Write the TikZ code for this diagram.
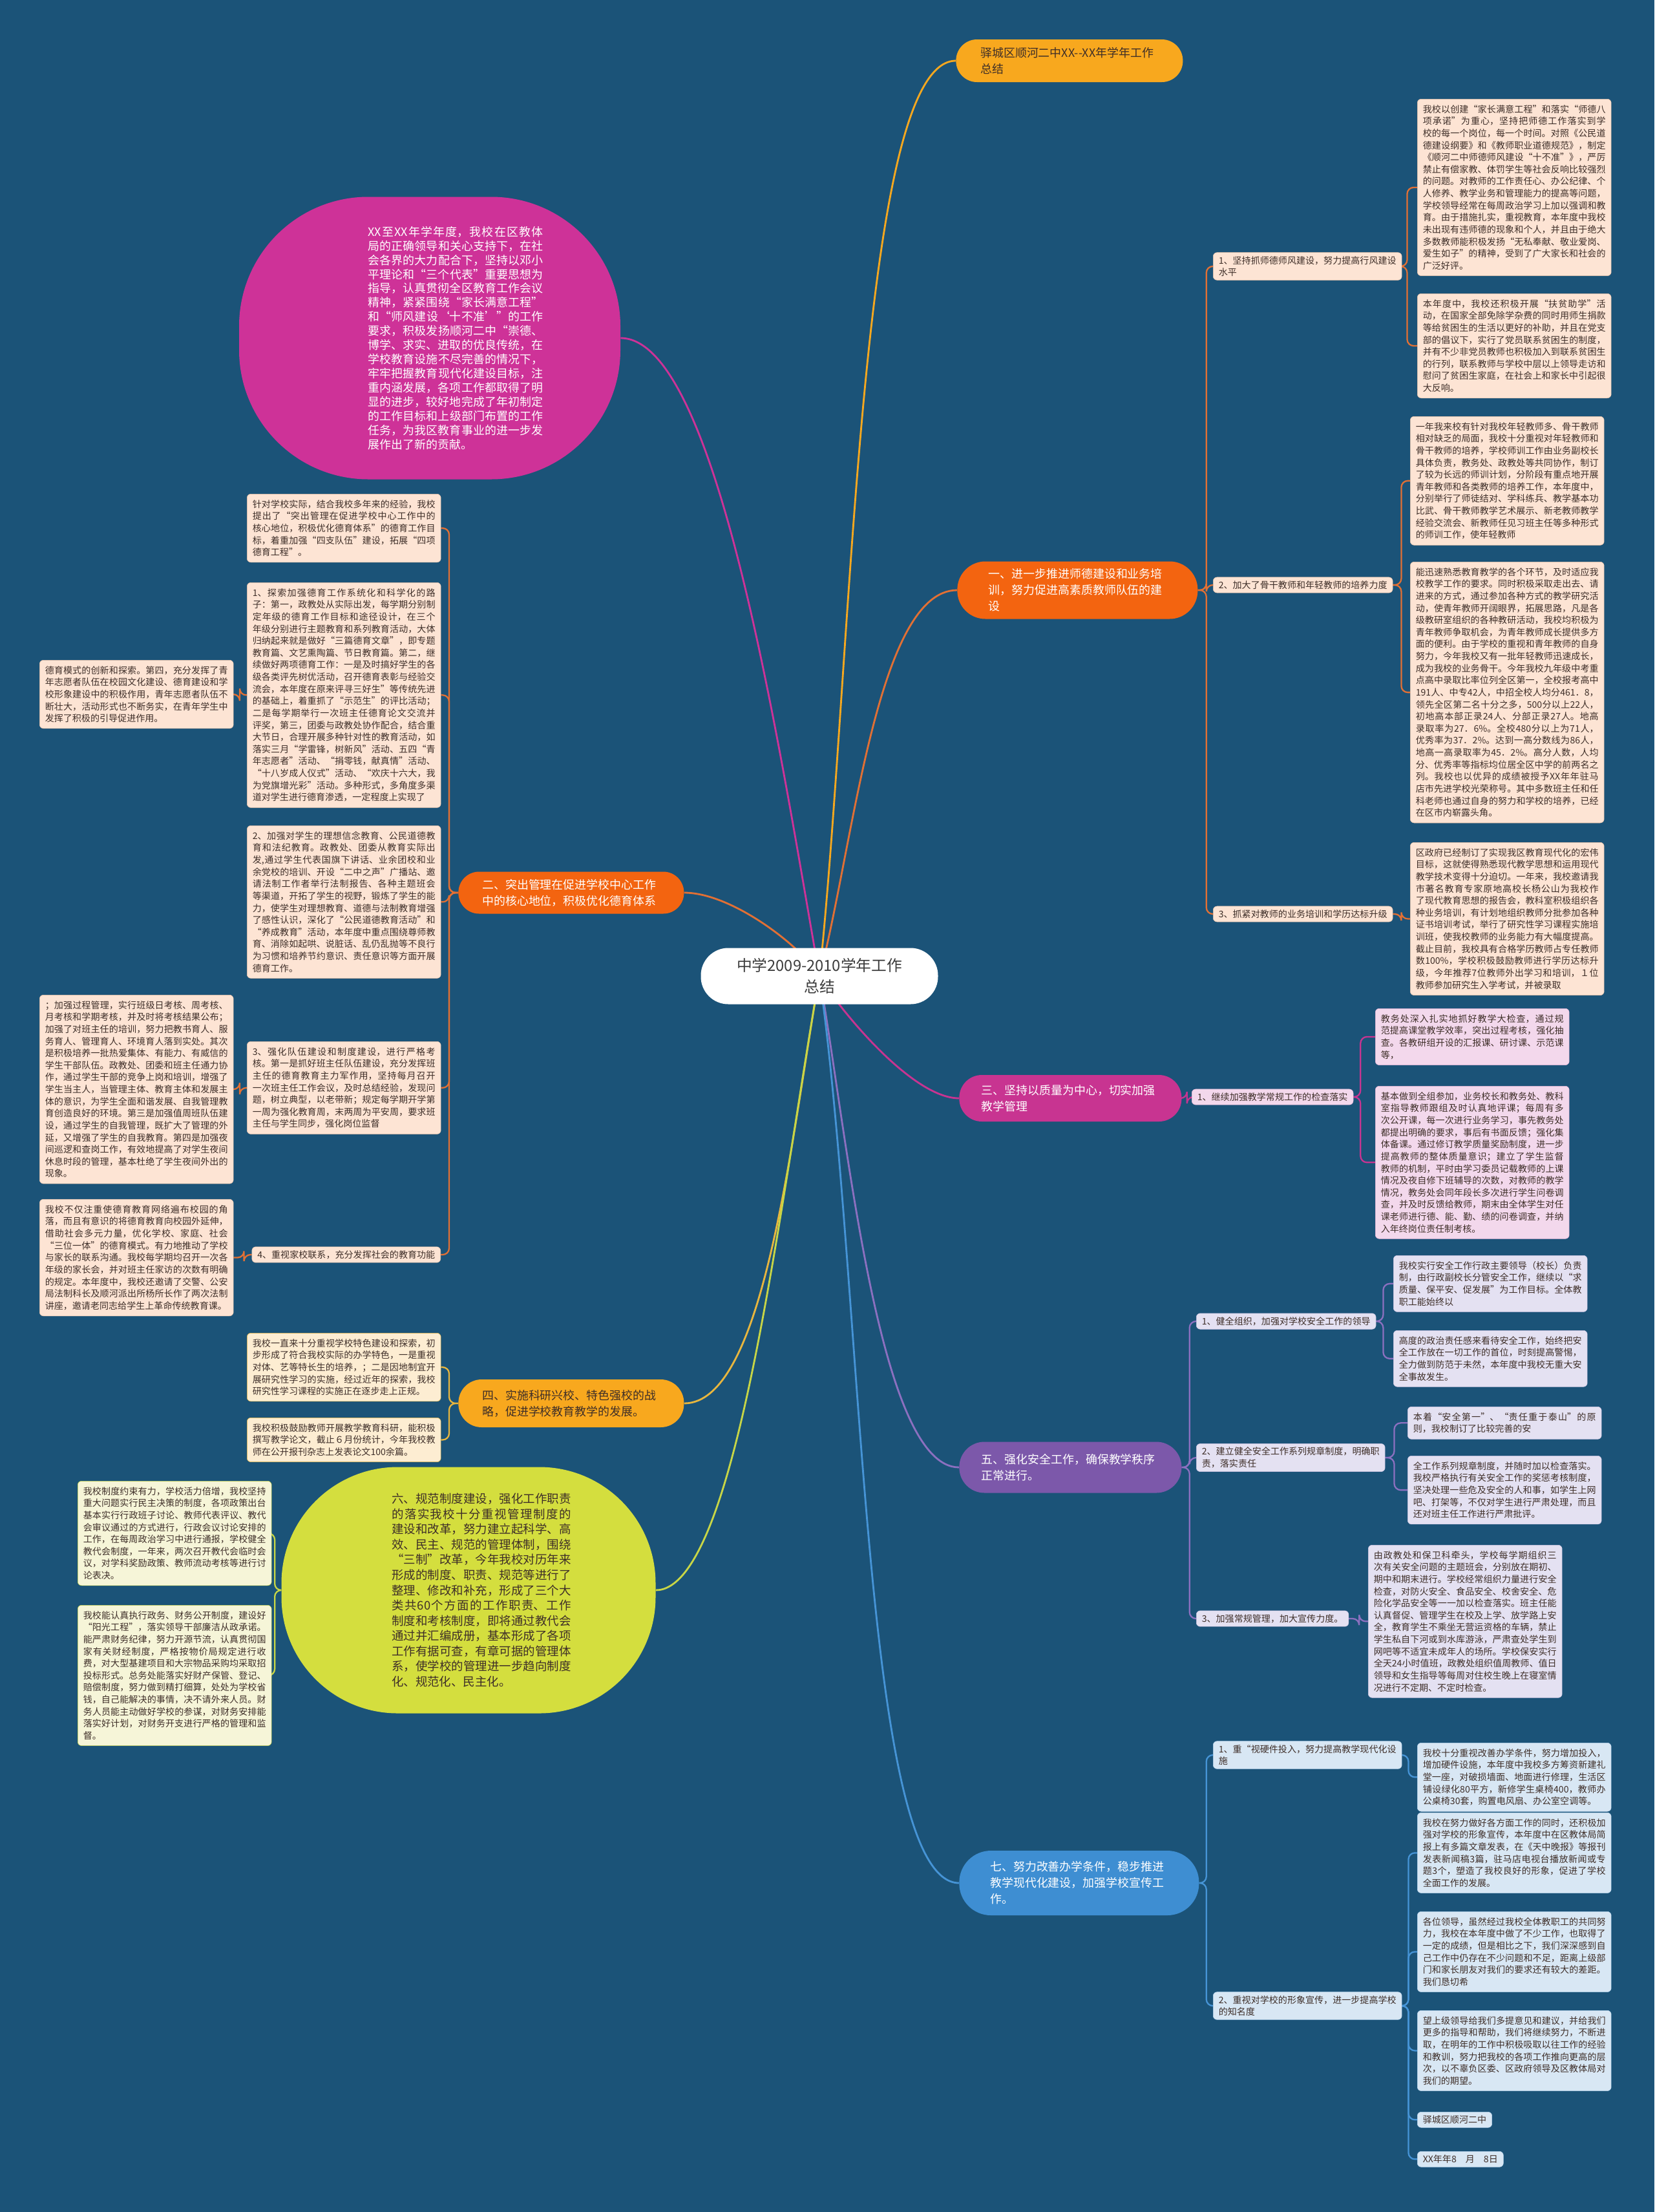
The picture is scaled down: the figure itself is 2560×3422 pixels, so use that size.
\documentclass[tikz,border=0pt]{standalone}
\usepackage{fontspec}
\setmainfont{Noto Sans CJK SC}
\XeTeXlinebreaklocale "zh"
\XeTeXlinebreakskip=0pt plus 1pt
\usetikzlibrary{backgrounds}

\definecolor{bgblue}{RGB}{27,83,120}
\definecolor{orng}{RGB}{243,100,16}
\definecolor{orline}{RGB}{226,112,52}
\definecolor{peach}{RGB}{253,228,212}
\definecolor{peachline}{RGB}{236,196,170}
\definecolor{gold}{RGB}{248,168,30}
\definecolor{goldline}{RGB}{232,182,62}
\definecolor{cream}{RGB}{253,237,210}
\definecolor{mag}{RGB}{200,52,145}
\definecolor{pinkbox}{RGB}{243,216,236}
\definecolor{purp}{RGB}{124,88,170}
\definecolor{purline}{RGB}{140,112,192}
\definecolor{lav}{RGB}{228,225,242}
\definecolor{blu}{RGB}{62,142,210}
\definecolor{bluline}{RGB}{70,148,214}
\definecolor{lblue}{RGB}{216,231,244}
\definecolor{pinkell}{RGB}{206,50,152}
\definecolor{lime}{RGB}{212,222,62}
\definecolor{limeline}{RGB}{200,214,70}
\definecolor{pale}{RGB}{246,245,216}
\definecolor{txt}{RGB}{62,46,40}
\definecolor{roottxt}{RGB}{60,60,60}

\newcommand{\boxfont}{\fontsize{8}{10.6}\selectfont}
\newcommand{\pillfont}{\fontsize{10.2}{14.2}\selectfont}

\tikzset{
  rootnode/.style={fill=white,rounded corners=8.5mm,minimum width=73.4mm,minimum height=17.4mm,align=center,font=\fontsize{13.5}{18.5}\selectfont,text=roottxt},
  pill/.style={align=left,text width=55mm,inner xsep=0pt,inner ysep=1mm,font=\pillfont,anchor=west},
  bubble/.style={inner sep=0pt},
  txtbox/.style={rounded corners=1.2mm,align=justify,text width=161pt,inner xsep=1.7mm,inner ysep=1.8mm,font=\boxfont,text=txt,anchor=north west},
  tag/.style={rounded corners=1.2mm,align=left,inner xsep=1.7mm,inner ysep=1.1mm,font=\boxfont,text=txt,anchor=west},
  oc/.style={fill=peach,draw=peachline,line width=.3pt},
  gc/.style={fill=cream,draw=goldline,line width=.3pt},
  mc/.style={fill=pinkbox,draw=pinkbox!80!mag,line width=.3pt},
  vc/.style={fill=lav,draw=lav!80!purp,line width=.3pt},
  bc/.style={fill=lblue,draw=lblue!80!blu,line width=.3pt},
  lc/.style={fill=pale,draw=limeline,line width=.3pt},
  trunk/.style={line width=1.6pt},
  twig/.style={line width=1.3pt,rounded corners=2mm}
}

\begin{document}
\begin{tikzpicture}[x=0.2mm,y=0.2mm]

  \begin{scope}[on background layer]
    \fill[bgblue] (0,0) rectangle (2560,-3422);
  \end{scope}
  \useasboundingbox (0,0) rectangle (2560,-3422);

  % --- centre ---
  \node[rootnode] (root) at (1268,-1510) {中学2009-2010学年工作\\总结};

  % --- droite : titre ---
  \node[pill,fill=gold,text=txt,minimum width=70.2mm,minimum height=13.2mm,rounded corners=6.5mm] (title) at (1479,-94) {驿城区顺河二中XX-{}-XX年学年工作\\总结};

  % --- droite : un ---
  \node[pill,fill=orng,text=white,minimum width=74.4mm,minimum height=17.8mm,rounded corners=8.7mm] (one) at (1481,-913) {一、进一步推进师德建设和业务培\\训，努力促进高素质教师队伍的建\\设};
  \node[tag,oc] (t11) at (1877,-412) {1、坚持抓师德师风建设，努力提高行风建设\\水平};
  \node[tag,oc] (t12) at (1877,-905) {2、加大了骨干教师和年轻教师的培养力度};
  \node[tag,oc] (t13) at (1877,-1414) {3、抓紧对教师的业务培训和学历达标升级};
  \node[txtbox,oc] (b11) at (2193,-153) {我校以创建“家长满意工程”和落实“师德八项承诺”为重心，坚持把师德工作落实到学校的每一个岗位，每一个时间。对照《公民道德建设纲要》和《教师职业道德规范》，制定《顺河二中师德师风建设“十不准”》，严厉禁止有偿家教、体罚学生等社会反响比较强烈的问题。对教师的工作责任心、办公纪律、个人修养、教学业务和管理能力的提高等问题，学校领导经常在每周政治学习上加以强调和教育。由于措施扎实，重视教育，本年度中我校未出现有违师德的现象和个人，并且由于绝大多数教师能积极发扬“无私奉献、敬业爱岗、爱生如子”的精神，受到了广大家长和社会的广泛好评。};
  \node[txtbox,oc] (b12) at (2193,-454) {本年度中，我校还积极开展“扶贫助学”活动，在国家全部免除学杂费的同时用师生捐款等给贫困生的生活以更好的补助，并且在党支部的倡议下，实行了党员联系贫困生的制度，并有不少非党员教师也积极加入到联系贫困生的行列，联系教师与学校中层以上领导走访和慰问了贫困生家庭，在社会上和家长中引起很大反响。};
  \node[txtbox,oc] (b13) at (2182,-644) {一年我来校有针对我校年轻教师多、骨干教师相对缺乏的局面，我校十分重视对年轻教师和骨干教师的培养，学校师训工作由业务副校长具体负责，教务处、政教处等共同协作，制订了较为长远的师训计划，分阶段有重点地开展青年教师和各类教师的培养工作，本年度中，分别举行了师徒结对、学科练兵、教学基本功比武、骨干教师教学艺术展示、新老教师教学经验交流会、新教师任见习班主任等多种形式的师训工作，使年轻教师};
  \node[txtbox,oc] (b14) at (2182,-869) {能迅速熟悉教育教学的各个环节，及时适应我校教学工作的要求。同时积极采取走出去、请进来的方式，通过参加各种方式的教学研究活动，使青年教师开阔眼界，拓展思路，凡是各级教研室组织的各种教研活动，我校均积极为青年教师争取机会，为青年教师成长提供多方面的便利。由于学校的重视和青年教师的自身努力，今年我校又有一批年轻教师迅速成长，成为我校的业务骨干。今年我校九年级中考重点高中录取比率位列全区第一，全校报考高中191人、中专42人，中招全校人均分461．8，领先全区第二名十分之多，500分以上22人，初地高本部正录24人、分部正录27人。地高录取率为27．6\%。全校480分以上为71人，优秀率为37．2\%。达到一高分数线为86人，地高一高录取率为45．2\%。高分人数，人均分、优秀率等指标均位居全区中学的前两名之列。我校也以优异的成绩被授予XX年年驻马店市先进学校光荣称号。其中多数班主任和任科老师也通过自身的努力和学校的培养，已经在区市内崭露头角。};
  \node[txtbox,oc] (b15) at (2182,-1303) {区政府已经制订了实现我区教育现代化的宏伟目标，这就使得熟悉现代教学思想和运用现代教学技术变得十分迫切。一年来，我校邀请我市著名教育专家原地高校长杨公山为我校作了现代教育思想的报告会，教科室积极组织各种业务培训，有计划地组织教师分批参加各种证书培训考试，举行了研究性学习课程实施培训班，使我校教师的业务能力有大幅度提高。截止目前，我校具有合格学历教师占专任教师数100\%，学校积极鼓励教师进行学历达标升级，今年推荐7位教师外出学习和培训，１位教师参加研究生入学考试，并被录取};

  % --- droite : trois ---
  \node[pill,fill=mag,text=white,minimum width=68.8mm,minimum height=14.4mm,rounded corners=7mm] (three) at (1484,-1699) {三、坚持以质量为中心，切实加强\\教学管理};
  \node[tag,mc] (t31) at (1844,-1697) {1、继续加强教学常规工作的检查落实};
  \node[txtbox,mc] (b31) at (2128,-1560) {教务处深入扎实地抓好教学大检查，通过规范提高课堂教学效率，突出过程考核，强化抽查。各教研组开设的汇报课、研讨课、示范课等，};
  \node[txtbox,mc] (b32) at (2128,-1680) {基本做到全组参加，业务校长和教务处、教科室指导教师跟组及时认真地评课；每周有多次公开课，每一次进行业务学习，事先教务处都提出明确的要求，事后有书面反馈；强化集体备课。通过修订教学质量奖励制度，进一步提高教师的整体质量意识；建立了学生监督教师的机制，平时由学习委员记载教师的上课情况及夜自修下班辅导的次数，对教师的教学情况，教务处会同年段长多次进行学生问卷调查，并及时反馈给教师，期末由全体学生对任课老师进行德、能、勤、绩的问卷调查，并纳入年终岗位责任制考核。};

  % --- droite : cinq ---
  \node[pill,fill=purp,text=white,minimum width=68.8mm,minimum height=15.8mm,rounded corners=7.8mm] (five) at (1484,-2270) {五、强化安全工作，确保教学秩序\\正常进行。};
  \node[tag,vc] (t51) at (1851,-2044) {1、健全组织，加强对学校安全工作的领导};
  \node[tag,vc] (t52) at (1851,-2255) {2、建立健全安全工作系列规章制度，明确职\\责，落实责任};
  \node[tag,vc] (t53) at (1851,-2504) {3、加强常规管理，加大宣传力度。};
  \node[txtbox,vc] (b51) at (2156,-1942) {我校实行安全工作行政主要领导（校长）负责制，由行政副校长分管安全工作，继续以“求质量、保平安、促发展”为工作目标。全体教职工能始终以};
  \node[txtbox,vc] (b52) at (2156,-2058) {高度的政治责任感来看待安全工作，始终把安全工作放在一切工作的首位，时刻提高警惕，全力做到防范于未然，本年度中我校无重大安全事故发生。};
  \node[txtbox,vc] (b53) at (2178,-2176) {本着“安全第一”、“责任重于泰山”的原则，我校制订了比较完善的安};
  \node[txtbox,vc] (b54) at (2178,-2252) {全工作系列规章制度，并随时加以检查落实。我校严格执行有关安全工作的奖惩考核制度，坚决处理一些危及安全的人和事，如学生上网吧、打架等，不仅对学生进行严肃处理，而且还对班主任工作进行严肃批评。};
  \node[txtbox,vc] (b55) at (2117,-2390) {由政教处和保卫科牵头，学校每学期组织三次有关安全问题的主题班会，分别放在期初、期中和期末进行。学校经常组织力量进行安全检查，对防火安全、食品安全、校舍安全、危险化学品安全等一一加以检查落实。班主任能认真督促、管理学生在校及上学、放学路上安全，教育学生不乘坐无营运资格的车辆，禁止学生私自下河或到水库游泳，严肃查处学生到网吧等不适宜未成年人的场所。学校保安实行全天24小时值班，政教处组织值周教师、值日领导和女生指导等每周对住校生晚上在寝室情况进行不定期、不定时检查。};

  % --- droite : sept ---
  \node[pill,fill=blu,text=white,minimum width=74.2mm,minimum height=20mm,rounded corners=9.8mm] (seven) at (1484,-2913) {七、努力改善办学条件，稳步推进\\教学现代化建设，加强学校宣传工\\作。};
  \node[tag,bc] (t71) at (1877,-2715) {1、重“视硬件投入，努力提高教学现代化设\\施};
  \node[tag,bc] (t72) at (1877,-3103) {2、重视对学校的形象宣传，进一步提高学校\\的知名度};
  \node[txtbox,bc] (b71) at (2193,-2696) {我校十分重视改善办学条件，努力增加投入，增加硬件设施，本年度中我校多方筹资新建礼堂一座，对破损墙面、地面进行修理，生活区铺设绿化80平方，新修学生桌椅400，教师办公桌椅30套，购置电风扇、办公室空调等。};
  \node[txtbox,bc] (b72) at (2193,-2804) {我校在努力做好各方面工作的同时，还积极加强对学校的形象宣传，本年度中在区教体局简报上有多篇文章发表，在《天中晚报》等报刊发表新闻稿3篇，驻马店电视台播放新闻或专题3个，塑造了我校良好的形象，促进了学校全面工作的发展。};
  \node[txtbox,bc] (b73) at (2193,-2957) {各位领导，虽然经过我校全体教职工的共同努力，我校在本年度中做了不少工作，也取得了一定的成绩，但是相比之下，我们深深感到自己工作中仍存在不少问题和不足，距离上级部门和家长朋友对我们的要求还有较大的差距。我们恳切希};
  \node[txtbox,bc] (b74) at (2193,-3110) {望上级领导给我们多提意见和建议，并给我们更多的指导和帮助，我们将继续努力，不断进取，在明年的工作中积极吸取以往工作的经验和教训，努力把我校的各项工作推向更高的层次，以不辜负区委、区政府领导及区教体局对我们的期望。};
  \node[tag,bc,anchor=north west] (b75) at (2193,-3267) {驿城区顺河二中};
  \node[tag,bc,anchor=north west] (b76) at (2193,-3328) {XX年年8　月　8日};

  % --- gauche : introduction ---
  \node[bubble,fill=pinkell,text=white,minimum width=118mm,minimum height=87.4mm,rounded corners=40mm] (intro) at (665,-523) {\hspace*{16mm}\parbox{154pt}{\fontsize{10.2}{12.5}\selectfont XX至XX年学年度，我校在区教体局的正确领导和关心支持下，在社会各界的大力配合下，坚持以邓小平理论和“三个代表”重要思想为指导，认真贯彻全区教育工作会议精神，紧紧围绕“家长满意工程”和“师风建设‘十不准’”的工作要求，积极发扬顺河二中“崇德、博学、求实、进取的优良传统，在学校教育设施不尽完善的情况下，牢牢把握教育现代化建设目标，注重内涵发展，各项工作都取得了明显的进步，较好地完成了年初制定的工作目标和上级部门布置的工作任务，为我区教育事业的进一步发展作出了新的贡献。}};

  % --- gauche : deux ---
  \node[pill,fill=orng,text=white,minimum width=69.8mm,minimum height=13mm,rounded corners=6.4mm] (two) at (709,-1381) {二、突出管理在促进学校中心工作\\中的核心地位，积极优化德育体系};
  \node[txtbox,oc] (b21) at (382,-764) {针对学校实际，结合我校多年来的经验，我校提出了“突出管理在促进学校中心工作中的核心地位，积极优化德育体系”的德育工作目标，着重加强“四支队伍”建设，拓展“四项德育工程”。};
  \node[txtbox,oc] (b22) at (382,-901) {1、探索加强德育工作系统化和科学化的路子：第一，政教处从实际出发，每学期分别制定年级的德育工作目标和途径设计，在三个年级分别进行主题教育和系列教育活动，大体归纳起来就是做好“三篇德育文章”，即专题教育篇、文艺熏陶篇、节日教育篇。第二，继续做好两项德育工作：一是及时搞好学生的各级各类评先树优活动，召开德育表彰与经验交流会，本年度在原来评寻三好生”等传统先进的基础上，着重抓了“示范生”的评比活动；二是每学期举行一次班主任德育论文交流并评奖，第三，团委与政教处协作配合，结合重大节日，合理开展多种针对性的教育活动，如落实三月“学雷锋，树新风”活动、五四“青年志愿者”活动、“捐零钱，献真情”活动、“十八岁成人仪式”活动、“欢庆十六大，我为党旗增光彩”活动。多种形式，多角度多渠道对学生进行德育渗透，一定程度上实现了};
  \node[txtbox,oc] (b22a) at (61,-1021) {德育模式的创新和探索。第四，充分发挥了青年志愿者队伍在校园文化建设、德育建设和学校形象建设中的积极作用，青年志愿者队伍不断壮大，活动形式也不断务实，在青年学生中发挥了积极的引导促进作用。};
  \node[txtbox,oc] (b23) at (382,-1277) {2、加强对学生的理想信念教育、公民道德教育和法纪教育。政教处、团委从教育实际出发,通过学生代表国旗下讲话、业余团校和业余党校的培训、开设“二中之声”广播站、邀请法制工作者举行法制报告、各种主题班会等渠道，开拓了学生的视野，锻炼了学生的能力，使学生对理想教育、道德与法制教育增强了感性认识，深化了“公民道德教育活动”和“养成教育”活动，本年度中重点围绕尊师教育、消除如起哄、说脏话、乱仍乱抛等不良行为习惯和培养节约意识、责任意识等方面开展德育工作。};
  \node[txtbox,oc] (b24) at (382,-1611) {3、强化队伍建设和制度建设，进行严格考核。第一是抓好班主任队伍建设，充分发挥班主任的德育教育主力军作用，坚持每月召开一次班主任工作会议，及时总结经验，发现问题，树立典型，以老带新；规定每学期开学第一周为强化教育周，末两周为平安周，要求班主任与学生同步，强化岗位监督};
  \node[txtbox,oc] (b24a) at (61,-1539) {；加强过程管理，实行班级日考核、周考核、月考核和学期考核，并及时将考核结果公布；加强了对班主任的培训，努力把教书育人、服务育人、管理育人、环境育人落到实处。其次是积极培养一批热爱集体、有能力、有威信的学生干部队伍。政教处、团委和班主任通力协作，通过学生干部的竞争上岗和培训，增强了学生当主人，当管理主体、教育主体和发展主体的意识，为学生全面和谐发展、自我管理教育创造良好的环境。第三是加强值周班队伍建设，通过学生的自我管理，既扩大了管理的外延，又增强了学生的自我教育。第四是加强夜间巡逻和查岗工作，有效地提高了对学生夜间休息时段的管理，基本杜绝了学生夜间外出的现象。};
  \node[tag,oc,anchor=east] (t24) at (682,-1941) {4、重视家校联系，充分发挥社会的教育功能};
  \node[txtbox,oc] (b25) at (61,-1855) {我校不仅注重使德育教育网络遍布校园的角落，而且有意识的将德育教育向校园外延伸，借助社会多元力量，优化学校、家庭、社会“三位一体”的德育模式。有力地推动了学校与家长的联系沟通。我校每学期均召开一次各年级的家长会，并对班主任家访的次数有明确的规定。本年度中，我校还邀请了交警、公安局法制科长及顺河派出所杨所长作了两次法制讲座，邀请老同志给学生上革命传统教育课。};

  % --- gauche : quatre ---
  \node[pill,fill=gold,text=txt,minimum width=69.8mm,minimum height=14.8mm,rounded corners=7.2mm] (four) at (709,-2171) {四、实施科研兴校、特色强校的战\\略，促进学校教育教学的发展。};
  \node[txtbox,gc] (b41) at (382,-2062) {我校一直来十分重视学校特色建设和探索，初步形成了符合我校实际的办学特色，一是重视对体、艺等特长生的培养，；二是因地制宜开展研究性学习的实施，经过近年的探索，我校研究性学习课程的实施正在逐步走上正规。};
  \node[txtbox,gc] (b42) at (382,-2193) {我校积极鼓励教师开展教学教育科研，能积极撰写教学论文，截止６月份统计，今年我校教师在公开报刊杂志上发表论文100余篇。};

  % --- gauche : six ---
  \node[bubble,fill=lime,text=txt,minimum width=115.8mm,minimum height=76.2mm,rounded corners=36mm] (six) at (725,-2460) {\hspace*{8mm}\parbox{158pt}{\fontsize{10.5}{13.4}\selectfont 六、规范制度建设，强化工作职责的落实我校十分重视管理制度的建设和改革，努力建立起科学、高效、民主、规范的管理体制，围绕“三制”改革，今年我校对历年来形成的制度、职责、规范等进行了整理、修改和补充，形成了三个大类共60个方面的工作职责、工作制度和考核制度，即将通过教代会通过并汇编成册，基本形成了各项工作有据可查，有章可据的管理体系，使学校的管理进一步趋向制度化、规范化、民主化。}};
  \node[txtbox,lc] (b61) at (120,-2291) {我校制度约束有力，学校活力倍增，我校坚持重大问题实行民主决策的制度，各项政策出台基本实行行政班子讨论、教师代表评议、教代会审议通过的方式进行，行政会议讨论安排的工作，在每周政治学习中进行通报，学校健全教代会制度，一年来，两次召开教代会临时会议，对学科奖励政策、教师流动考核等进行讨论表决。};
  \node[txtbox,lc] (b62) at (120,-2483) {我校能认真执行政务、财务公开制度，建设好“阳光工程”，落实领导干部廉洁从政承诺。能严肃财务纪律，努力开源节流，认真贯彻国家有关财经制度，严格按物价局规定进行收费，对大型基建项目和大宗物品采购均采取招投标形式。总务处能落实好财产保管、登记、赔偿制度，努力做到精打细算，处处为学校省钱，自己能解决的事情，决不请外来人员。财务人员能主动做好学校的参谋，对财务安排能落实好计划，对财务开支进行严格的管理和监督。};

  % --- liaisons ---
  \begin{scope}[on background layer]
    \draw[trunk,gold] (root.center) to[out=84,in=180,out distance=100mm,in distance=30mm] (title.west);
    \draw[trunk,orline] (root.center) to[out=75,in=180,out distance=40mm,in distance=25mm] (one.west);
    \draw[trunk,mag] (root.center) to[out=-60,in=180,out distance=10mm,in distance=15mm] (three.west);
    \draw[trunk,purline] (root.center) to[out=-80,in=180,out distance=50mm,in distance=25mm] (five.west);
    \draw[trunk,bluline] (root.center) to[out=-82,in=180,out distance=100mm,in distance=30mm] (seven.west);
    \draw[trunk,pinkell] (root.center) to[out=100,in=0,out distance=70mm,in distance=30mm] (intro.east);
    \draw[trunk,orline] (root.center) to[out=120,in=0,out distance=10mm,in distance=15mm] (two.east);
    \draw[trunk,goldline] (root.center) to[out=-100,in=0,out distance=50mm,in distance=25mm] (four.east);
    \draw[trunk,limeline] (root.center) to[out=-100,in=0,out distance=70mm,in distance=25mm] (six.east);

    % un
    \foreach \t in {t11,t12,t13}
      \draw[twig,orline] (one.east) -- ++(13,0) |- (\t.west);
    \foreach \b in {b11,b12}
      \draw[twig,orline] (t11.east) -- ++(8,0) |- (\b.west);
    \foreach \b in {b13,b14}
      \draw[twig,orline] (t12.east) -- ++(13,0) |- (\b.west);
    \draw[twig,orline] (t13.east) -- ++(13,0) |- (b15.west);

    % trois
    \draw[twig,mag] (three.east) -- ++(8,0) |- (t31.west);
    \foreach \b in {b31,b32}
      \draw[twig,mag] (t31.east) -- ++(11,0) |- (\b.west);

    % cinq
    \foreach \t in {t51,t52,t53}
      \draw[twig,purline] (five.east) -- ++(12,0) |- (\t.west);
    \foreach \b in {b51,b52}
      \draw[twig,purline] (t51.east) -- ++(11,0) |- (\b.west);
    \foreach \b in {b53,b54}
      \draw[twig,purline] (t52.east) -- ++(14,0) |- (\b.west);
    \draw[twig,purline] (t53.east) -- ++(16,0) |- (b55.west);

    % sept
    \foreach \t in {t71,t72}
      \draw[twig,bluline] (seven.east) -- ++(11,0) |- (\t.west);
    \draw[twig,bluline] (t71.east) -- ++(10,0) |- (b71.west);
    \foreach \b in {b72,b73,b74,b75,b76}
      \draw[twig,bluline] (t72.east) -- ++(10,0) |- (\b.west);

    % deux
    \foreach \b in {b21,b22,b23,b24}
      \draw[twig,orline] (two.west) -- ++(-14,0) |- (\b.east);
    \draw[twig,orline] (two.west) -- ++(-14,0) |- (t24.east);
    \draw[twig,orline] (b22.west) -- ++(-11,0) |- (b22a.east);
    \draw[twig,orline] (b24.west) -- ++(-11,0) |- (b24a.east);
    \draw[twig,orline] (t24.west) -- ++(-12,0) |- (b25.east);

    % quatre
    \foreach \b in {b41,b42}
      \draw[twig,goldline] (four.west) -- ++(-14,0) |- (\b.east);

    % six
    \foreach \b in {b61,b62}
      \draw[twig,limeline] (six.west) -- ++(-10,0) |- (\b.east);
  \end{scope}

\end{tikzpicture}
\end{document}
